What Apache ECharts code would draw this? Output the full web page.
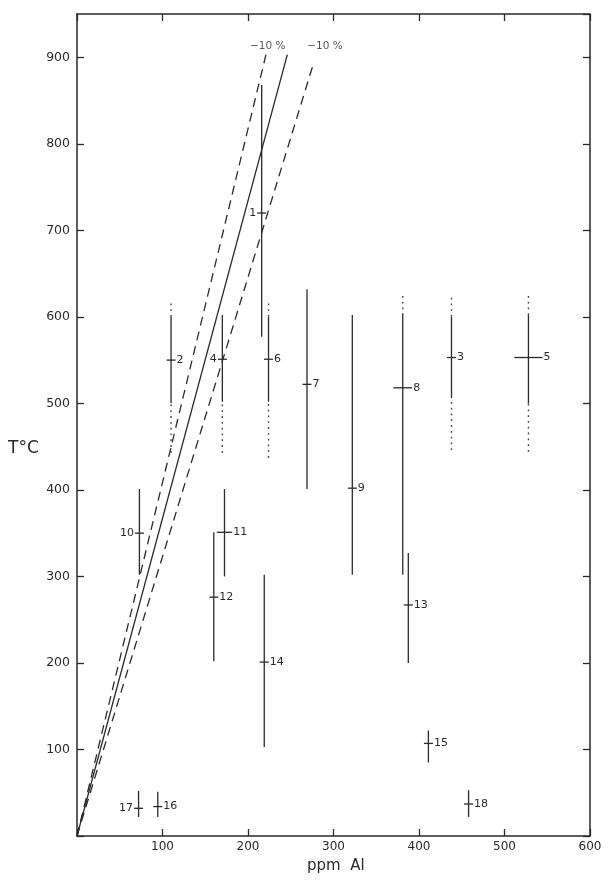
<!DOCTYPE html>
<html>
<head>
<meta charset="utf-8">
<script src="https://cdn.jsdelivr.net/npm/echarts@6/dist/echarts.min.js"></script>
<style>
html,body{margin:0;padding:0;background:#fff;}
#chart{width:608px;height:880px;}
</style>
</head>
<body>
<div id="chart"></div>
<script>
// ---- data ----
var sampleIds = ['1','2','3','4','5','6','7','8','9','10','11','12','13','14','15','16','17','18'];
var ppmAl     = [216, 110, 438, 170, 528, 224, 269, 381, 322, 73, 172.5, 160, 387.5, 219, 411, 94.5, 72, 458];
var tempC     = [720, 550, 553, 551, 553, 551, 522, 518, 402, 350, 351, 276, 267, 201, 107, 34, 32, 37];
var tLow      = [577, 500, 506, 502, 500, 502, 401, 302, 302, 302, 300, 202, 200, 103, 85, 22, 22, 22];
var tHigh     = [868, 600, 600, 602, 602, 600, 632, 602, 602, 401, 401, 351, 327, 302, 122, 51, 52, 53];
var dotLow    = [null, 443, 446, 443, 444, 437, null, null, null, null, null, null, null, null, null, null, null, null];
var dotHigh   = [null, 617, 625, null, 625, 617, null, 625, null, null, null, null, null, null, null, null, null, null];
var ppmErr    = [0, 0, 0, 0, 16.5, 0, 0, 11, 0, 0, 9, 0, 0, 0, 0, 0, 0, 0];
var leftLabelIds = ['1','4','10','17'];

var centralLine = [[0, 0], [246, 903]];
var bandLineA   = [[0, 0], [221, 903]];
var bandLineB   = [[0, 0], [276, 891]];
var bandLabels  = [['−10 %', 223, 913], ['−10 %', 290, 913]];

var xTicks = {min: 0, max: 600, interval: 100};
var yTicks = {min: 0, max: 950, interval: 100};

// ---- chart ----
var ink = '#2a2a2a';
var font = 'DejaVu Sans';

var barData = sampleIds.map(function (id, i) {
  var dl = dotLow[i] == null ? tLow[i] : dotLow[i];
  var dh = dotHigh[i] == null ? tHigh[i] : dotHigh[i];
  return [ppmAl[i], tempC[i], tLow[i], tHigh[i], dl, dh, ppmErr[i], i];
});

function renderBar(params, api) {
  var x = api.value(0), y = api.value(1), lo = api.value(2), hi = api.value(3);
  var dl = api.value(4), dh = api.value(5), xe = api.value(6), idx = api.value(7);
  var c = api.coord([x, y]);
  var pLo = api.coord([x, lo]), pHi = api.coord([x, hi]);
  var children = [];
  children.push({type: 'line', shape: {x1: pLo[0], y1: pLo[1], x2: pHi[0], y2: pHi[1]},
    style: {stroke: ink, lineWidth: 1.3}});
  if (dl < lo) {
    var a = api.coord([x, dl]);
    children.push({type: 'line', shape: {x1: a[0], y1: a[1], x2: pLo[0], y2: pLo[1]},
      style: {stroke: '#444', lineWidth: 1.4, lineDash: [1.8, 4]}});
  }
  if (dh > hi) {
    var b = api.coord([x, dh]);
    children.push({type: 'line', shape: {x1: pHi[0], y1: pHi[1], x2: b[0], y2: b[1]},
      style: {stroke: '#444', lineWidth: 1.4, lineDash: [1.8, 4]}});
  }
  var x1, x2;
  if (xe > 0) {
    x1 = api.coord([x - xe, y])[0];
    x2 = api.coord([x + xe, y])[0];
  } else {
    x1 = c[0] - 4.5; x2 = c[0] + 4.5;
  }
  children.push({type: 'line', shape: {x1: x1, y1: c[1], x2: x2, y2: c[1]},
    style: {stroke: ink, lineWidth: 1.3}});
  var id = sampleIds[idx];
  var left = leftLabelIds.indexOf(id) >= 0;
  children.push({type: 'text', style: {
    text: id, x: left ? x1 - 1 : x2 + 1, y: c[1],
    textAlign: left ? 'right' : 'left', textVerticalAlign: 'middle',
    font: '11px ' + font, fill: ink}});
  return {type: 'group', children: children};
}

var chart = echarts.init(document.getElementById('chart'), null, {renderer: 'canvas'});

function baseX(pos, showLabel) {
  return {
    type: 'value', position: pos, min: xTicks.min, max: xTicks.max, interval: xTicks.interval,
    axisLine: {show: true, onZero: false, lineStyle: {color: ink, width: 1.5}},
    axisTick: {show: true, inside: true, length: 7, lineStyle: {color: ink, width: 1.3}},
    axisLabel: {show: showLabel, color: ink, fontFamily: font, fontSize: 12, margin: 5,
      formatter: function (v) { return v === 0 ? '' : String(v); }},
    splitLine: {show: false}
  };
}
function baseY(pos, showLabel) {
  return {
    type: 'value', position: pos, min: yTicks.min, max: yTicks.max, interval: yTicks.interval,
    axisLine: {show: true, onZero: false, lineStyle: {color: ink, width: 1.5}},
    axisTick: {show: true, inside: true, length: 7, lineStyle: {color: ink, width: 1.3}},
    axisLabel: {show: showLabel, color: ink, fontFamily: font, fontSize: 12.5, margin: 7,
      showMaxLabel: false,
      formatter: function (v) { return (v === 0 || v > 900) ? '' : String(v); }},
    splitLine: {show: false}
  };
}

var xb = baseX('bottom', true);
var xt = baseX('top', false);
var yl = baseY('left', true);
var yr = baseY('right', false);

chart.setOption({
  backgroundColor: '#fff',
  animation: false,
  grid: {left: 77, right: 18, top: 14, bottom: 44, containLabel: false},
  xAxis: [xb, xt],
  yAxis: [yl, yr],
  graphic: [
    {type: 'text', left: 8, top: 440, style: {text: 'T°C', font: '17px ' + font, fill: ink}},
    {type: 'text', left: 307, top: 859, style: {text: 'ppm  Al', font: '15px ' + font, fill: ink}}
  ],
  series: [
    {type: 'line', data: centralLine, symbol: 'none', silent: true,
      lineStyle: {color: ink, width: 1.3}},
    {type: 'line', data: bandLineA, symbol: 'none', silent: true,
      lineStyle: {color: ink, width: 1.3, type: [9, 6]}},
    {type: 'line', data: bandLineB, symbol: 'none', silent: true,
      lineStyle: {color: ink, width: 1.3, type: [9, 6]}},
    {type: 'scatter', symbolSize: 0, silent: true,
      data: bandLabels.map(function (d) { return {value: [d[1], d[2]], name: d[0]}; }),
      label: {show: true, position: 'inside', formatter: '{b}', color: ink,
        fontFamily: font, fontSize: 10.5}},
    {type: 'custom', renderItem: renderBar, data: barData, silent: true,
      encode: {x: 0, y: 1}, clip: false}
  ]
});
</script>
</body>
</html>
